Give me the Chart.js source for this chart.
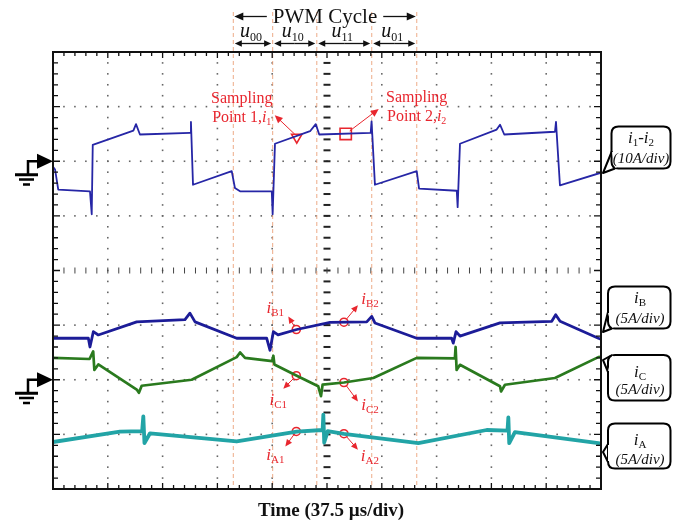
<!DOCTYPE html>
<html>
<head>
<meta charset="utf-8">
<script src="https://cdn.jsdelivr.net/npm/chart.js@4.4.1/dist/chart.umd.min.js"></script>
<style>
html, body { margin: 0; padding: 0; background: #fff; }
</style>
</head>
<body>
<canvas id="graph" width="688" height="527"></canvas>
<script>
// scope settings
var usPerDiv = 37.5;
var divsX = 10;
var divsY = 8;

// i1 - i2 (10A/div), time in us, value in A
var tI12 = [0, 1.4, 3.6, 25.3, 26.5, 27.2, 55, 56.8, 59.5, 93.8, 94.4, 95.8, 122.3, 124.5, 128, 149.7, 150.3, 151.9, 175.9, 179.8, 182.2, 217.4, 218, 220.3, 248.9, 250.5, 276.3, 276.9, 278.5, 303.6, 305.9, 308.8, 343.5, 344.2, 346.9, 375];
var vI12 = [-1.0, -1.5, -5.2, -5.5, -9.7, 3.0, 5.6, 6.8, 4.9, 5.2, 7.2, -4.3, -1.8, -4.9, -5.5, -5.5, -9.7, 3.2, 5.5, 6.8, 4.9, 5.2, 7.3, -4.3, -1.8, -5.0, -5.4, -8.4, 3.2, 5.8, 6.7, 4.9, 5.4, 7.2, -4.4, -2.1];

// phase currents (5A/div), values as shown on screen against the lower ground mark
var tIB = [0, 24.2, 25.3, 27.6, 31.0, 57.3, 90.3, 93.7, 97.2, 125.7, 146.2, 148.5, 150.8, 154.0, 166.8, 189.6, 214.7, 218.1, 220.3, 248.9, 272.8, 273.9, 275.8, 278.5, 305.9, 341.3, 344.0, 347.0, 373.2, 375];
var vIB = [3.8, 3.8, 3.0, 4.4, 4.1, 5.3, 5.5, 6.1, 5.3, 3.8, 3.8, 2.7, 4.4, 4.1, 4.6, 5.25, 5.3, 5.8, 5.2, 3.8, 3.8, 3.35, 4.4, 4.0, 5.2, 5.35, 5.95, 5.35, 3.8, 3.7];

var tIC = [0, 25.0, 27.5, 28.3, 31.0, 57.3, 58.8, 60.7, 94.9, 125.7, 128.0, 131.4, 150.0, 150.8, 151.5, 166.8, 181.5, 183.4, 184.5, 199.1, 219.2, 248.9, 275.0, 275.5, 276.2, 278.5, 305.9, 306.6, 309.3, 343.5, 373.2, 375];
var vIC = [2.0, 1.9, 2.6, 0.9, 1.4, -0.9, -1.2, -0.55, 0.0, 2.07, 2.5, 2.0, 1.7, 2.2, 1.4, 0.37, -0.6, -1.5, -0.45, -0.25, 0.16, 2.0, 1.95, 3.0, 0.9, 1.37, -0.6, -1.07, -0.46, 0.16, 2.07, 2.1];

var tIA = [0, 45.8, 61.0, 61.8, 62.6, 66.4, 125.7, 166.8, 184.5, 185.0, 185.6, 188.0, 199.1, 250.0, 296.8, 311.0, 311.6, 312.2, 316.1, 373.2, 375];
var vIA = [-5.7, -4.75, -4.7, -3.35, -5.8, -4.9, -5.65, -4.75, -4.6, -3.2, -5.75, -4.7, -4.95, -5.8, -4.6, -4.65, -3.45, -5.8, -4.8, -5.8, -5.85];

// PWM cycle boundaries (us) and the four vector labels
var pwmEdges = [123.4, 150.3, 180.5, 218.1, 248.9];
var pwmSubs = ['00', '10', '11', '01'];

// sampling points
var sampleT = [166.8, 200.3];
var sampleI12 = [4.4, 5.0];
var sampleCircT = [166.5, 199.1];
var sampIB = [4.6, 5.27];
var sampIC = [0.37, -0.25];
var sampIA = [-4.73, -4.94];

var serif = "'Liberation Serif', 'Times New Roman', serif";
var red = '#e8262e';

function pts(t, v) {
    var out = [];
    for (var i = 0; i < t.length; i++) out.push({x: t[i], y: v[i]});
    return out;
}

function drawArrow(ctx, x1, y1, x2, y2, size, color, width) {
    var a = Math.atan2(y2 - y1, x2 - x1);
    var c = Math.cos(a), s = Math.sin(a);
    ctx.save();
    ctx.strokeStyle = color;
    ctx.fillStyle = color;
    ctx.lineWidth = width;
    ctx.beginPath();
    ctx.moveTo(x1, y1);
    ctx.lineTo(x2 - c * size * 0.8, y2 - s * size * 0.8);
    ctx.stroke();
    ctx.beginPath();
    ctx.moveTo(x2, y2);
    ctx.lineTo(x2 - size * c + size * 0.45 * s, y2 - size * s - size * 0.45 * c);
    ctx.lineTo(x2 - size * c - size * 0.45 * s, y2 - size * s + size * 0.45 * c);
    ctx.closePath();
    ctx.fill();
    ctx.restore();
}

function drawParts(ctx, parts, cx, y) {
    var w = 0;
    parts.forEach(function (p) { ctx.font = p.f; w += ctx.measureText(p.t).width; });
    var x = cx - w / 2;
    ctx.textAlign = 'left';
    ctx.textBaseline = 'alphabetic';
    parts.forEach(function (p) {
        ctx.font = p.f;
        ctx.fillText(p.t, x, y + (p.dy || 0));
        x += ctx.measureText(p.t).width;
    });
}

function bubble(ctx, x1, y1, x2, y2, tail) {
    var r = 7;
    ctx.save();
    ctx.fillStyle = '#fff';
    ctx.strokeStyle = '#000';
    ctx.lineWidth = 2;
    ctx.lineJoin = 'round';
    ctx.beginPath();
    ctx.moveTo(x1 + r, y1);
    ctx.lineTo(x2 - r, y1);
    ctx.quadraticCurveTo(x2, y1, x2, y1 + r);
    ctx.lineTo(x2, y2 - r);
    ctx.quadraticCurveTo(x2, y2, x2 - r, y2);
    ctx.lineTo(x1 + r, y2);
    ctx.quadraticCurveTo(x1, y2, x1, y2 - r);
    ctx.lineTo(x1, y1 + r);
    ctx.quadraticCurveTo(x1, y1, x1 + r, y1);
    ctx.closePath();
    ctx.fill();
    ctx.stroke();
    // pointer
    ctx.beginPath();
    ctx.moveTo(tail[0], tail[1]);
    ctx.lineTo(tail[2], tail[3]);
    ctx.lineTo(tail[4], tail[5]);
    ctx.stroke();
    ctx.strokeStyle = '#fff';
    ctx.lineWidth = 2;
    ctx.beginPath();
    ctx.moveTo(tail[0] + 1, tail[1] + 1);
    ctx.lineTo(tail[4] + 1, tail[5] - 1);
    ctx.stroke();
    ctx.restore();
}

function ground(ctx, x, y) {
    ctx.save();
    ctx.fillStyle = '#000';
    ctx.strokeStyle = '#000';
    ctx.beginPath();
    ctx.moveTo(x, y);
    ctx.lineTo(x - 16, y - 7.5);
    ctx.lineTo(x - 16, y + 7.5);
    ctx.closePath();
    ctx.fill();
    ctx.lineWidth = 2.5;
    ctx.beginPath();
    ctx.moveTo(x - 16, y);
    ctx.lineTo(x - 25, y);
    ctx.lineTo(x - 25, y + 13);
    ctx.stroke();
    ctx.fillRect(x - 38, y + 12, 23, 3);
    ctx.fillRect(x - 34, y + 17, 15, 2.5);
    ctx.fillRect(x - 30, y + 22, 7, 2.5);
    ctx.restore();
}

var scopePlugin = {
    id: 'scope',
    beforeDatasetsDraw: function (chart) {
        var ctx = chart.ctx, a = chart.chartArea;
        var xs = chart.scales.x, ys = chart.scales.yBot;
        var dx = (a.right - a.left) / divsX, dy = (a.bottom - a.top) / divsY;
        var i, k, x, y;
        ctx.save();
        // dotted graticule
        ctx.fillStyle = '#666';
        for (i = 1; i < divsX; i++) {
            if (i === divsX / 2) continue;
            x = xs.getPixelForValue(i * usPerDiv);
            for (k = 1; k < divsY * 5; k++) {
                y = a.top + k * dy / 5;
                ctx.fillRect(x - 0.8, y - 0.8, 1.6, 1.6);
            }
        }
        for (i = 1; i < divsY; i++) {
            if (i === divsY / 2) continue;
            y = ys.getPixelForValue(30 - i * 5);
            for (k = 1; k < divsX * 5; k++) {
                x = a.left + k * dx / 5;
                ctx.fillRect(x - 0.8, y - 0.8, 1.6, 1.6);
            }
        }
        // centre axes with graduations
        ctx.fillStyle = '#222';
        var xc = xs.getPixelForValue(usPerDiv * divsX / 2);
        var yc = ys.getPixelForValue(10);
        for (k = 1; k < divsY * 5; k++) {
            y = a.top + k * dy / 5;
            ctx.fillRect(xc - 3.5, y - 1, 7, 2);
        }
        ctx.fillStyle = '#444';
        for (k = 1; k < divsX * 5; k++) {
            x = a.left + k * dx / 5;
            ctx.fillRect(x - 0.5, yc - 3, 1, 6);
        }
        // PWM cycle edges
        ctx.strokeStyle = 'rgba(235,160,120,0.8)';
        ctx.lineWidth = 1.1;
        ctx.setLineDash([4, 3]);
        pwmEdges.forEach(function (t) {
            var px = xs.getPixelForValue(t);
            ctx.beginPath();
            ctx.moveTo(px, 12);
            ctx.lineTo(px, a.bottom);
            ctx.stroke();
        });
        ctx.restore();
    },
    afterDatasetsDraw: function (chart) {
        var ctx = chart.ctx, a = chart.chartArea;
        var xs = chart.scales.x, yt = chart.scales.yTop, yb = chart.scales.yBot;
        var dx = (a.right - a.left) / divsX, dy = (a.bottom - a.top) / divsY;
        var k, x, y, len;
        ctx.save();
        // frame and edge graduations
        ctx.strokeStyle = '#111';
        ctx.lineWidth = 2;
        ctx.strokeRect(a.left, a.top, a.right - a.left, a.bottom - a.top);
        ctx.lineWidth = 1.3;
        ctx.beginPath();
        for (k = 1; k < divsX * 5; k++) {
            x = a.left + k * dx / 5;
            len = (k % 5 === 0) ? 6 : 4;
            ctx.moveTo(x, a.top); ctx.lineTo(x, a.top + len);
            ctx.moveTo(x, a.bottom); ctx.lineTo(x, a.bottom - len);
        }
        for (k = 1; k < divsY * 5; k++) {
            y = a.top + k * dy / 5;
            len = (k % 5 === 0) ? 7 : 5;
            ctx.moveTo(a.left, y); ctx.lineTo(a.left + len, y);
            ctx.moveTo(a.right, y); ctx.lineTo(a.right - len, y);
        }
        ctx.stroke();

        // header: PWM cycle
        var e0 = xs.getPixelForValue(pwmEdges[0]);
        var e4 = xs.getPixelForValue(pwmEdges[pwmEdges.length - 1]);
        var hc = (e0 + e4) / 2;
        ctx.fillStyle = '#111';
        ctx.font = '21px ' + serif;
        var tw = ctx.measureText('PWM Cycle').width;
        ctx.textAlign = 'center';
        ctx.fillText('PWM Cycle', hc, 23);
        drawArrow(ctx, hc - tw / 2 - 6, 16.5, e0 + 1, 16.5, 9, '#111', 1.3);
        drawArrow(ctx, hc + tw / 2 + 6, 16.5, e4 - 1, 16.5, 9, '#111', 1.3);
        for (k = 0; k < pwmSubs.length; k++) {
            var p1 = xs.getPixelForValue(pwmEdges[k]);
            var p2 = xs.getPixelForValue(pwmEdges[k + 1]);
            var mid = (p1 + p2) / 2;
            drawArrow(ctx, mid, 43.5, p1 + 1.5, 43.5, 7, '#111', 1.3);
            drawArrow(ctx, mid, 43.5, p2 - 1.5, 43.5, 7, '#111', 1.3);
            ctx.fillStyle = '#111';
            drawParts(ctx, [
                {t: 'u', f: 'italic 20px ' + serif},
                {t: pwmSubs[k], f: '12px ' + serif, dy: 4}
            ], mid - 2, 37);
        }

        // sampling point callouts
        ctx.fillStyle = red;
        var sx1 = xs.getPixelForValue(sampleT[0]), sy1 = yt.getPixelForValue(sampleI12[0]);
        var sx2 = xs.getPixelForValue(sampleT[1]), sy2 = yt.getPixelForValue(sampleI12[1]);
        drawArrow(ctx, sx1 - 2, sy1 - 3, sx1 - 22, sy1 - 22, 8, red, 1);
        drawArrow(ctx, sx2 + 4, sy2 - 3, sx2 + 33, sy2 - 25, 8, red, 1);
        ctx.fillStyle = red;
        ctx.font = '16px ' + serif;
        ctx.textAlign = 'center';
        ctx.fillText('Sampling', sx1 - 55, sy1 - 34);
        ctx.fillText('Sampling', sx2 + 71, sy2 - 32);
        drawParts(ctx, [
            {t: 'Point 1,', f: '16px ' + serif},
            {t: 'i', f: 'italic 16px ' + serif},
            {t: '1', f: '10px ' + serif, dy: 3}
        ], sx1 - 55, sy1 - 15);
        drawParts(ctx, [
            {t: 'Point 2,', f: '16px ' + serif},
            {t: 'i', f: 'italic 16px ' + serif},
            {t: '2', f: '10px ' + serif, dy: 3}
        ], sx2 + 71, sy2 - 13);

        // phase current callouts
        var calls = [
            {t: sampleCircT[0], v: sampIB[0], s: 'B1', ax: -8, ay: -13, lx: -21, ly: -16},
            {t: sampleCircT[0], v: sampIC[0], s: 'C1', ax: -13, ay: 13, lx: -18, ly: 29},
            {t: sampleCircT[0], v: sampIA[0], s: 'A1', ax: -11, ay: 15, lx: -21, ly: 29},
            {t: sampleCircT[1], v: sampIB[1], s: 'B2', ax: 14, ay: -17, lx: 26, ly: -18},
            {t: sampleCircT[1], v: sampIC[1], s: 'C2', ax: 14, ay: 19, lx: 26, ly: 28},
            {t: sampleCircT[1], v: sampIA[1], s: 'A2', ax: 14, ay: 16, lx: 26, ly: 27}
        ];
        calls.forEach(function (c) {
            var px = xs.getPixelForValue(c.t), py = yb.getPixelForValue(c.v);
            var ang = Math.atan2(c.ay, c.ax);
            drawArrow(ctx, px + 4 * Math.cos(ang), py + 4 * Math.sin(ang), px + c.ax, py + c.ay, 7, red, 1);
            ctx.fillStyle = red;
            drawParts(ctx, [
                {t: 'i', f: 'italic 17px ' + serif},
                {t: c.s, f: '11px ' + serif, dy: 3}
            ], px + c.lx, py + c.ly);
        });

        // channel labels
        var R = a.right;
        bubble(ctx, R + 10.5, 126.5, 670.5, 168.5, [R + 11, 151, R + 2, 173, R + 14, 168.5]);
        bubble(ctx, R + 7, 286.5, 670.5, 328.5, [R + 7, 312, R + 2, 332, R + 11, 328.5]);
        bubble(ctx, R + 7, 355, 670.5, 400.5, [R + 11, 355, R + 2, 360, R + 7, 372]);
        bubble(ctx, R + 7, 423.5, 670.5, 468.5, [R + 7, 444, R + 2, 452, R + 7, 462]);
        ctx.fillStyle = '#111';
        drawParts(ctx, [
            {t: 'i', f: 'italic 17px ' + serif},
            {t: '1', f: '11px ' + serif, dy: 3},
            {t: '-', f: '17px ' + serif},
            {t: 'i', f: 'italic 17px ' + serif},
            {t: '2', f: '11px ' + serif, dy: 3}
        ], 641, 143);
        ctx.font = 'italic 15px ' + serif;
        ctx.textAlign = 'center';
        ctx.fillText('(10A/div)', 641, 163);
        [['B', 303, 323], ['C', 377, 394], ['A', 445, 464]].forEach(function (l) {
            drawParts(ctx, [
                {t: 'i', f: 'italic 17px ' + serif},
                {t: l[0], f: '11px ' + serif, dy: 3}
            ], 640, l[1]);
            ctx.font = 'italic 15px ' + serif;
            ctx.textAlign = 'center';
            ctx.fillText('(5A/div)', 640, l[2]);
        });

        // ground markers
        ground(ctx, a.left, yt.getPixelForValue(0));
        ground(ctx, a.left, yb.getPixelForValue(0));

        // time base
        ctx.fillStyle = '#111';
        ctx.font = 'bold 19px ' + serif;
        ctx.textAlign = 'center';
        ctx.fillText('Time (37.5 \u00b5s/div)', 331, 516);
        ctx.restore();
    }
};

function showScope() {
    var target = document.getElementById('graph');
    var marker = function (t, v, axis, style, radius, rot) {
        return {
            data: [{x: t, y: v}],
            yAxisID: axis,
            showLine: false,
            pointStyle: style,
            pointRadius: radius,
            pointRotation: rot || 0,
            pointBorderColor: red,
            pointBackgroundColor: 'rgba(0,0,0,0)',
            pointBorderWidth: 1.6
        };
    };
    var trace = function (t, v, axis, color, width) {
        return {
            data: pts(t, v),
            yAxisID: axis,
            borderColor: color,
            borderWidth: width,
            pointRadius: 0,
            tension: 0,
            borderJoinStyle: 'round'
        };
    };
    var datasets = [
        trace(tIA, vIA, 'yBot', '#22a4a6', 3.8),
        trace(tIC, vIC, 'yBot', '#2a7a1e', 2.7),
        trace(tIB, vIB, 'yBot', '#1c1c98', 2.8),
        trace(tI12, vI12, 'yTop', '#2626a6', 1.8),
        marker(sampleT[0], sampleI12[0], 'yTop', 'triangle', 6, 180),
        marker(sampleT[1], sampleI12[1], 'yTop', 'rect', 8)
    ];
    for (var i = 0; i < 2; i++) {
        datasets.push(marker(sampleCircT[i], sampIB[i], 'yBot', 'circle', 4));
        datasets.push(marker(sampleCircT[i], sampIC[i], 'yBot', 'circle', 4));
        datasets.push(marker(sampleCircT[i], sampIA[i], 'yBot', 'circle', 4));
    }

    new Chart(target, {
        type: 'line',
        data: {datasets: datasets},
        options: {
            responsive: false,
            animation: false,
            devicePixelRatio: 1,
            layout: {padding: {left: 53, right: 87, top: 52, bottom: 38}},
            plugins: {legend: {display: false}, tooltip: {enabled: false}},
            scales: {
                x: {type: 'linear', min: 0, max: usPerDiv * divsX, display: false},
                yTop: {type: 'linear', min: -60, max: 20, display: false},
                yBot: {type: 'linear', min: -10, max: 30, display: false}
            }
        },
        plugins: [scopePlugin]
    });
}

showScope();
</script>
</body>
</html>
